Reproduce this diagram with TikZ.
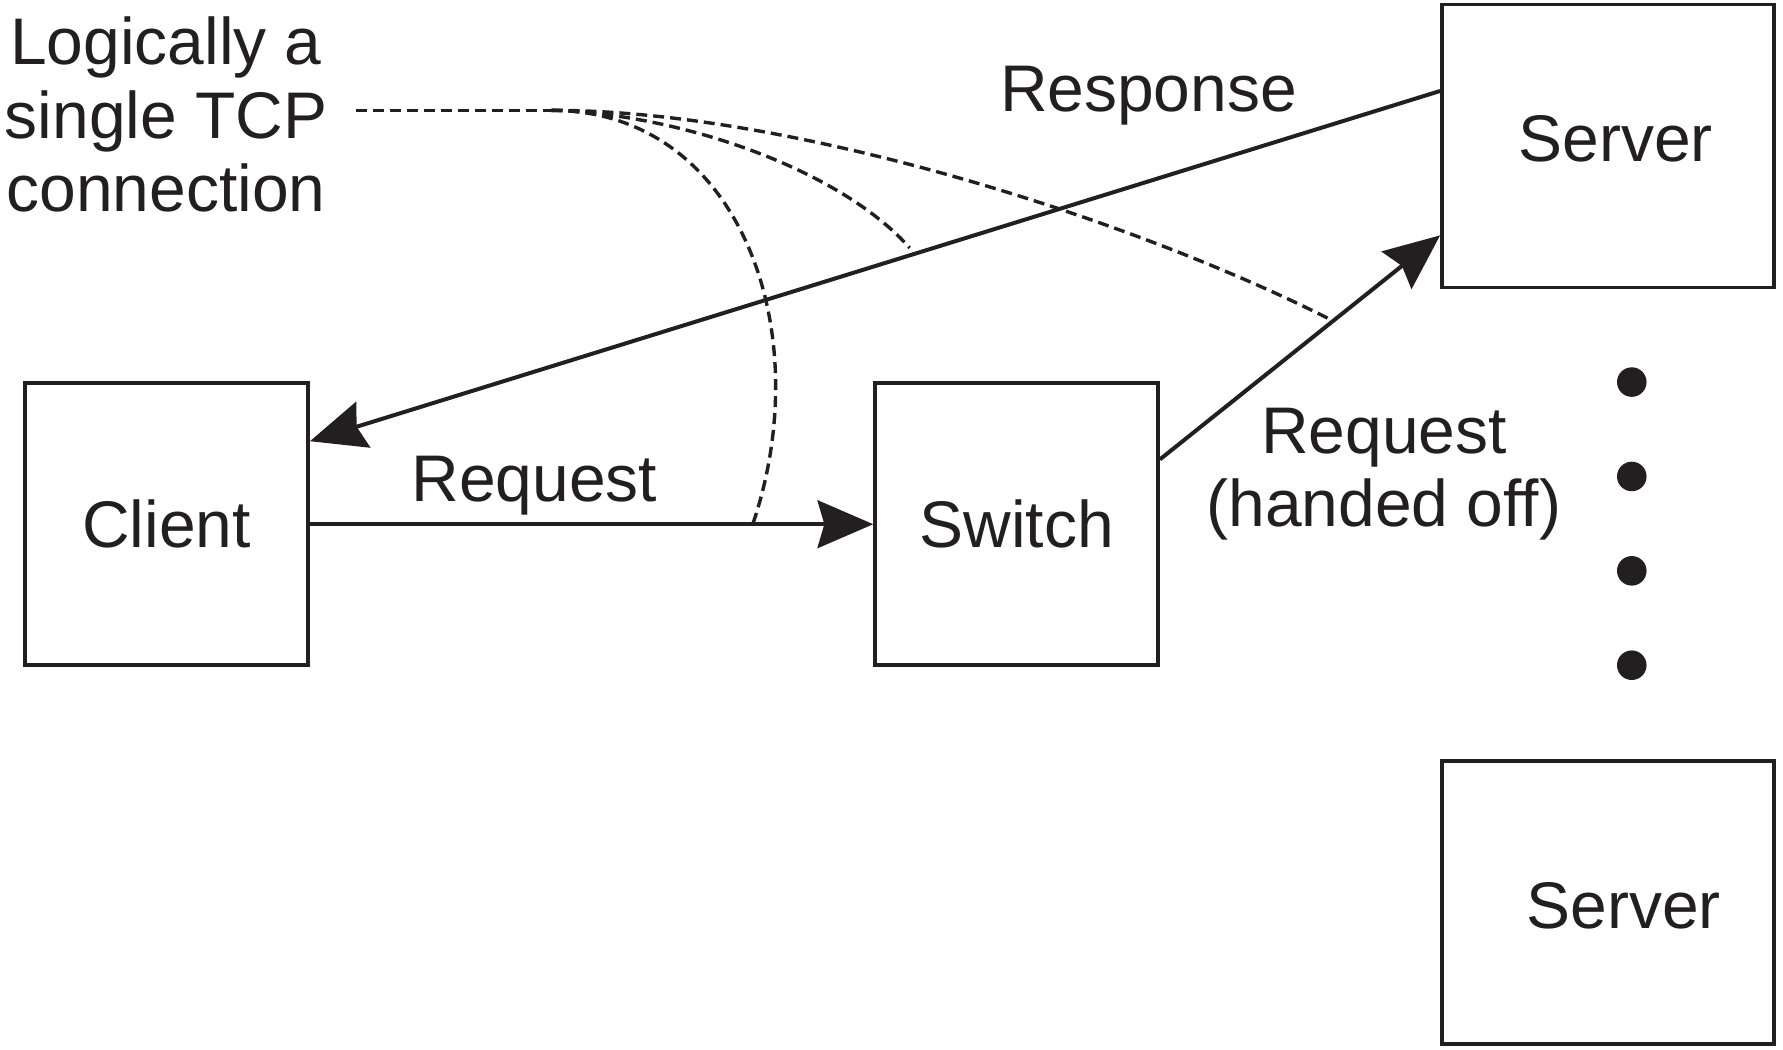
\documentclass[tikz,border=0pt]{standalone}
\usepackage{fontspec}
\setmainfont{Liberation Sans}
\usetikzlibrary{arrows.meta}
\definecolor{ink}{RGB}{35,31,32}
\begin{document}
\begin{tikzpicture}[x=0.02cm,y=-0.02cm,
  box/.style={draw=ink, line width=1.8pt, inner sep=0pt, minimum width=4.98cm, minimum height=4.96cm},
  srv/.style={box, minimum width=5.84cm, minimum height=4.98cm},
  lbl/.style={font=\fontsize{33}{36.8}\selectfont, text=ink, inner sep=0pt},
  conn/.style={line width=2pt, draw=ink, -{Stealth[length=0.98cm,width=0.84cm,inset=0.12cm]}},
  dsh/.style={line width=1.7pt, dash pattern=on 5.5pt off 3pt, draw=ink},
  dot/.style={circle, fill=ink, inner sep=0pt, minimum width=0.52cm, minimum height=0.48cm}]
\useasboundingbox (0,0) rectangle (1568,923);

% boxes
\node[box, lbl] (client) at (146.5,461) {Client};
\node[box, lbl] (switch) at (894,461) {Switch};
\node[srv, label={[lbl, xshift=0.14cm, yshift=0.13cm]center:Server}] (s1) at (1414,128.5) {};
\node[srv, label={[lbl, xshift=0.28cm, yshift=-0.07cm]center:Server}] (s2) at (1414,793.5) {};

% dots
\node[dot] (d1) at (1435,336) {};
\node[dot] (d2) at (1435,419) {};
\node[dot] (d3) at (1435,502) {};
\node[dot] (d4) at (1435,585) {};

% labels
\node[lbl, align=center] (tcp) at (146,101) {Logically a\\single TCP\\connection};
\node[lbl, anchor=base] (resp) at (1010,98) {Response};
\node[lbl, anchor=base] (req) at (470,441) {Request};
\node[lbl, align=center] (req2) at (1217,417) {Request\\(handed off)};

% connectors
\draw[conn] (client.east) -- (switch.west);
\draw[conn] ([yshift=0.97cm]s1.west) -- ([yshift=1.46cm]client.east);
\draw[conn] ([yshift=1.14cm]switch.east) -- ([yshift=-1.57cm]s1.west);

% dashed fan
\coordinate (start) at (313,97);
\coordinate (fan) at (485,97);
\coordinate (e1) at (662,461);
\coordinate (e2) at (800,218);
\coordinate (e3) at (1170,281);
\draw[dsh] (start) -- (fan);
\draw[dsh] (fan) .. controls (650,97) and (720,290) .. (e1);
\draw[dsh] (fan) .. controls (600,100) and (740,150) .. (e2);
\draw[dsh] (fan) .. controls (700,97) and (1000,195) .. (e3);
\end{tikzpicture}
\end{document}
